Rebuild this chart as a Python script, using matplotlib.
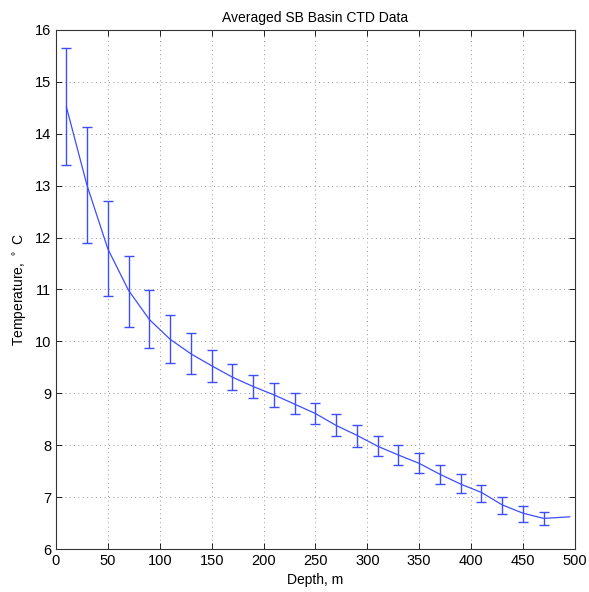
import numpy as np
import matplotlib
matplotlib.use("Agg")
import matplotlib.pyplot as plt

# DATA

depth = [10, 30, 50, 70, 90, 110, 130, 150, 170, 190, 210, 230,
         250, 270, 290, 310, 330, 350, 370, 390, 410, 430, 450, 470]
temp_mean = [14.52, 13.00, 11.78, 10.98, 10.42, 10.04, 9.76, 9.53, 9.31, 9.13, 8.97, 8.79,
             8.61, 8.38, 8.19, 7.98, 7.81, 7.65, 7.44, 7.25, 7.09, 6.85, 6.69, 6.59]
temp_upper = [15.65, 14.12, 12.71, 11.65, 10.98, 10.51, 10.16, 9.83, 9.56, 9.36, 9.19, 9.01,
              8.82, 8.60, 8.39, 8.18, 8.00, 7.84, 7.62, 7.44, 7.24, 7.00, 6.82, 6.71]
temp_lower = [13.40, 11.89, 10.87, 10.27, 9.87, 9.58, 9.37, 9.22, 9.06, 8.90, 8.74, 8.60,
              8.41, 8.18, 7.97, 7.79, 7.62, 7.46, 7.26, 7.08, 6.90, 6.67, 6.53, 6.46]

# profile line continues a bit past the last error bar
line_depth = depth + [495]
line_temp = temp_mean + [6.62]

# %%
plt.rcParams["font.family"] = ["Liberation Sans", "DejaVu Sans"]
plt.rcParams["font.size"] = 10

fig = plt.figure(figsize=(5.89, 5.92), dpi=100)
ax = fig.add_axes([0.095, 0.0726, 0.881, 0.877])

blue = "#3d4dff"
mean = np.array(temp_mean)
yerr = [mean - np.array(temp_lower), np.array(temp_upper) - mean]

ax.errorbar(depth, temp_mean, yerr=yerr, fmt="none", ecolor=blue,
            elinewidth=1.0, capsize=3.6, capthick=1.0)
ax.plot(line_depth, line_temp, color=blue, linewidth=0.9)

ax.set_xlim(0, 500)
ax.set_ylim(6, 16)
ax.set_xticks(np.arange(0, 501, 50))
ax.set_yticks(np.arange(6, 17, 1))

ax.grid(True, linestyle=(0, (1, 3.5)), color="0.6", linewidth=0.7)
ax.tick_params(direction="in", top=True, right=True, length=4, width=0.6,
               labelsize=10.5)
for s in ax.spines.values():
    s.set_linewidth(0.8)
    s.set_color("0.2")

ax.set_title("Averaged SB Basin CTD Data", fontsize=10)
ax.set_xlabel("Depth, m", fontsize=10)
ax.set_ylabel("Temperature, $^\\circ$ C", fontsize=10)

fig.savefig("out.png", dpi=100)
